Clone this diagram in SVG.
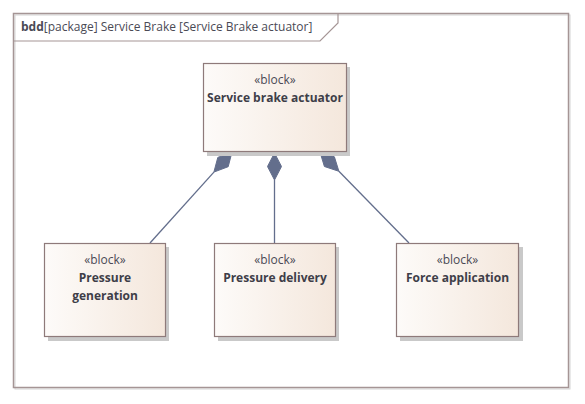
<svg xmlns="http://www.w3.org/2000/svg" width="585" height="404" viewBox="0 0 585 404">
<defs>
<linearGradient id="bg" x1="0" y1="0" x2="1" y2="0">
<stop offset="0" stop-color="#FDFBF9"/>
<stop offset="1" stop-color="#F4E7DC"/>
</linearGradient>
</defs>
<style>
.blk{fill:url(#bg);stroke:#8E7A7A;stroke-width:1.2}
.shd{fill:#C9C9C9}
.st{font-family:"Open Sans","Noto Sans",sans-serif;font-size:12px;fill:#4A4A55;text-anchor:middle}
.nm{font-family:"Open Sans","Noto Sans",sans-serif;font-size:12px;font-weight:bold;fill:#3E3E48;text-anchor:middle}
.ln{stroke:#636E8C;stroke-width:1.3;fill:none}
.dm{fill:#636E8C;stroke:#636E8C;stroke-width:1}
</style>
<g id="frame">
<rect x="15" y="15" width="555" height="374" fill="none" stroke="#D4D4D4" stroke-width="1"/>
<rect x="13.5" y="13.5" width="555" height="374" fill="none" stroke="#A59595" stroke-width="1.5"/>
<polyline points="13.5,41 320,41 338,23 338,13.5" fill="none" stroke="#A59595" stroke-width="1.2"/>
<text x="21" y="31" font-family="Open Sans,Noto Sans,sans-serif" font-size="12" fill="#4A4A55"><tspan font-weight="bold">bdd</tspan>[package] Service Brake [Service Brake actuator]</text>
</g>
<g id="connectors">
<line class="ln" x1="150" y1="243" x2="213.9" y2="172.1"/>
<polygon class="dm" points="232,152 228.2,166.7 213.9,172.1 217.8,157.4"/>
<line class="ln" x1="274.5" y1="243" x2="274.5" y2="180"/>
<polygon class="dm" points="274.5,153 281.5,166.5 274.5,180 267.5,166.5"/>
<line class="ln" x1="409" y1="243" x2="338.9" y2="171.3"/>
<polygon class="dm" points="320,152 334.4,156.8 338.9,171.3 324.4,166.5"/>
</g>
<g id="actuator">
<rect class="shd" x="207" y="67" width="143" height="89"/>
<rect class="blk" x="203.5" y="63.5" width="143" height="88"/>
<text class="st" x="275" y="84">«block»</text>
<text class="nm" x="275" y="102">Service brake actuator</text>
</g>
<g id="generation">
<rect class="shd" x="48" y="247" width="121" height="94"/>
<rect class="blk" x="44.5" y="243.5" width="121" height="93"/>
<text class="st" x="105" y="264">«block»</text>
<text class="nm" x="105" y="282">Pressure</text>
<text class="nm" x="105" y="300">generation</text>
</g>
<g id="delivery">
<rect class="shd" x="218" y="247" width="121" height="94"/>
<rect class="blk" x="214.5" y="243.5" width="121" height="93"/>
<text class="st" x="275" y="264">«block»</text>
<text class="nm" x="275" y="282">Pressure delivery</text>
</g>
<g id="force">
<rect class="shd" x="400" y="247" width="123" height="94"/>
<rect class="blk" x="396.5" y="243.5" width="122" height="93"/>
<text class="st" x="457.5" y="264">«block»</text>
<text class="nm" x="457.5" y="282">Force application</text>
</g>
</svg>
